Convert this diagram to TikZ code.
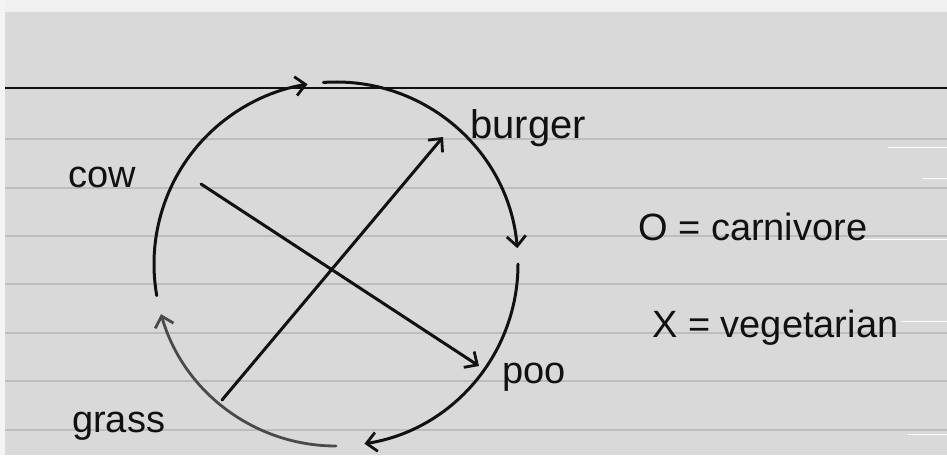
\documentclass[tikz,border=0pt]{standalone}
\usepackage{fontspec}
\setmainfont{Liberation Sans}
\usetikzlibrary{arrows.meta}
\definecolor{paper}{HTML}{D9D9D9}
\definecolor{rule}{HTML}{BDBDBD}
\definecolor{ink}{HTML}{111111}
\definecolor{fadedink}{HTML}{4A4A4A}
\tikzset{
  pen/.style={draw=ink, line width=3pt, line cap=round},
  fadedpen/.style={draw=fadedink, line width=2.8pt, line cap=round},
  tip/.style={-{Straight Barb[length=10pt,width=19pt,line width=2.8pt]}},
  ruling/.style={draw=rule, line width=2.2pt},
  glint/.style={draw=white, line width=1pt},
  hand/.style={text=ink, inner sep=0pt, anchor=base west, font=\fontsize{38}{40}\selectfont},
}
\begin{document}
\begin{tikzpicture}[x=1pt,y=1pt]
\useasboundingbox (0,0) rectangle (947,-455);
% card
\fill[paper] (0,0) rectangle (947,-455);
\fill[white!60!paper] (0,0) rectangle (947,-12);
\fill[white!70!paper] (0,0) rectangle (5,-455);
% ruled lines
\foreach \yy in {139,188,236,284,333,381,430}
  \draw[ruling] (5,-\yy) -- (947,-\yy);
\draw[draw=ink, line width=2.2pt] (5,-88) -- (947,-88);
% small white marks at the right edge
\draw[glint] (888,-147) -- (947,-147);
\draw[glint] (923,-178) -- (947,-178);
\draw[glint] (862,-239) -- (947,-239);
\draw[glint] (902,-321) -- (947,-321);
\draw[glint] (908,-434) -- (947,-434);
% circle centre
\coordinate (c) at (336,-264);
% four arcs, clockwise
\draw[pen, tip] ([shift={(190:182pt)}]c) arc[start angle=190, end angle=99, radius=182pt];
\draw[pen, tip] ([shift={(94:182pt)}]c) arc[start angle=94, end angle=5, radius=182pt];
\draw[pen, tip] ([shift={(0:182pt)}]c) arc[start angle=0, end angle=-81, radius=182pt];
\draw[fadedpen, tip] ([shift={(-90:182pt)}]c) arc[start angle=-90, end angle=-164, radius=182pt];
% labels
\node[hand] (cow) at (68,-187) {cow};
\node[hand, font=\fontsize{40}{42}\selectfont] (burger) at (470,-138) {burger};
\node[hand] (poo) at (502,-383) {poo};
\node[hand] (grass) at (72,-432) {grass};
\node[hand] (carn) at (638,-240) {O = carnivore};
\node[hand] (veg) at (652,-337) {X = vegetarian};
% diagonals
\coordinate (cowend) at (201,-184);
\coordinate (pooend) at (479,-366);
\coordinate (grassend) at (222,-400);
\coordinate (burgerend) at (443,-137);
\draw[pen, tip] (cowend) -- (pooend);
\draw[pen, tip] (grassend) -- (burgerend);
\end{tikzpicture}
\end{document}
